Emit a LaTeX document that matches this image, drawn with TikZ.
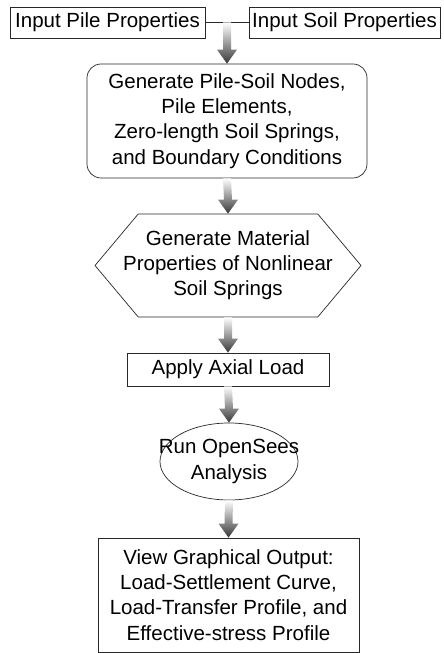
\documentclass[tikz,border=0pt]{standalone}
\usepackage{fontspec}
\setmainfont{Liberation Sans}
\usepackage{tikz}
\usetikzlibrary{positioning, shapes.geometric, shapes.symbols, calc}

% thick shaded arrow between two anchors
\newcommand{\blockarrow}[2]{%
  \shade[top color=white, bottom color=arrowGrey]
    ($(#1)+(-0.12,0)$) -- ($(#2)+(-0.12,0.42)$) -- ($(#2)+(-0.30,0.42)$) -- (#2)
    -- ($(#2)+(0.30,0.42)$) -- ($(#2)+(0.12,0.42)$) -- ($(#1)+(0.12,0)$) -- cycle;
}

\begin{document}
\begin{tikzpicture}[
    x=1cm, y=1cm,
    every node/.style={font=\fontsize{17.5}{21.5}\selectfont, align=center, inner sep=0pt},
    boxline/.style={draw=lineGrey, line width=0.6pt},
    inbox/.style={
      rectangle, boxline,
      minimum width=5.85cm, minimum height=0.93cm
    },
    roundbox/.style={
      rectangle, rounded corners=0.42cm, boxline,
      minimum width=8.4cm, minimum height=3.42cm
    },
    hexbox/.style={
      signal, signal to=west and east, signal pointer angle=100, boxline,
      inner sep=-1cm, minimum width=7.98cm, minimum height=3.09cm
    },
    plainbox/.style={
      rectangle, boxline,
      minimum width=6.06cm, minimum height=0.99cm
    },
    ellbox/.style={
      ellipse, boxline,
      inner sep=-1cm, minimum width=4.14cm, minimum height=2.31cm
    }
  ]
    \definecolor{lineGrey}{RGB}{40,40,40}
    \definecolor{arrowGrey}{RGB}{55,55,55}

    \useasboundingbox (0,0) rectangle (13.32,19.59);

    % input boxes
    \node[inbox] (pile) at (3.225,18.915) {Input Pile Properties};
    \node[inbox, minimum width=5.73cm] (soil) at (10.335,18.915) {Input Soil Properties};
    \draw[boxline] (pile.east) -- (soil.west);
    \coordinate (join) at ($(pile.east)!0.5!(soil.west)$);

    % main chain
    \node[roundbox] (gen) at (6.81,15.96)
      {Generate Pile-Soil Nodes,\\Pile Elements,\\Zero-length Soil Springs,\\and Boundary Conditions};
    \node[hexbox] (mat) at (6.84,11.625)
      {Generate Material\\Properties of Nonlinear\\Soil Springs};
    \node[plainbox] (load) at (6.84,8.505) {Apply Axial Load};
    \node[ellbox] (run) at (6.87,5.745) {Run OpenSees\\Analysis};
    \node[plainbox, minimum width=7.83cm, minimum height=3.42cm] (view) at (6.855,1.74)
      {View Graphical Output:\\Load-Settlement Curve,\\Load-Transfer Profile, and\\Effective-stress Profile};

    \blockarrow{join}{gen.north}
    \blockarrow{gen.south}{mat.north}
    \blockarrow{mat.south}{load.north}
    \blockarrow{load.south}{run.north}
    \blockarrow{run.south}{view.north}
  \end{tikzpicture}
\end{document}
